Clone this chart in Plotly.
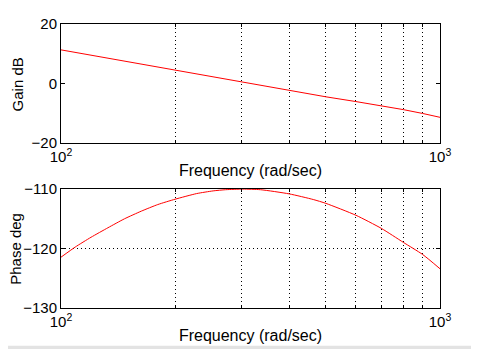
import plotly.graph_objects as go
from plotly.subplots import make_subplots

freq_gain = [100, 200, 300, 400, 500, 600, 700, 800, 900, 1000]
gain_db = [11.3, 4.4, 0.5, -2.3, -4.5, -6.1, -7.5, -8.8, -10.1, -11.4]

freq_phase = [100, 109, 120, 133, 147, 163, 180, 200, 228, 252, 272, 302, 336, 400, 463,
              500, 600, 700, 800, 900, 1000]
phase_deg = [-121.45, -119.75, -118.1, -116.5, -115.0, -113.7, -112.6, -111.7, -110.75, -110.3,
             -110.1, -110.0, -110.1, -110.8, -111.75, -112.4, -114.4, -116.6, -118.95,
             -121.0, -123.4]

x_major = [100, 1000]
x_major_text = ["10<sup>2</sup>", "10<sup>3</sup>"]
x_minor = [200, 300, 400, 500, 600, 700, 800, 900]

fig = make_subplots(rows=2, cols=1, vertical_spacing=0.0)
fig.add_trace(go.Scatter(x=freq_gain, y=gain_db, mode="lines",
                         line=dict(color="red", width=1)), row=1, col=1)
fig.add_trace(go.Scatter(x=freq_phase, y=phase_deg, mode="lines",
                         line=dict(color="red", width=1, shape="spline", smoothing=0.6)),
              row=2, col=1)

tfont = dict(family="Liberation Sans, Arial, sans-serif", size=15, color="black")
xtfont = dict(family="Liberation Sans, Arial, sans-serif", size=16, color="black")
dots = "1px,3px"
xcommon = dict(type="log", range=[2, 3], tickmode="array", tickvals=x_major, ticktext=x_major_text,
               ticks="inside", ticklen=4, tickcolor="black", showline=True, linecolor="black",
               linewidth=1, mirror="ticks", showgrid=False, zeroline=False, tickfont=tfont,
               automargin=False,
               minor=dict(tickmode="array", tickvals=x_minor, ticks="inside", ticklen=3,
                          tickcolor="black", showgrid=True, gridcolor="black", griddash=dots,
                          gridwidth=1),
               title=dict(text="Frequency (rad/sec)", font=xtfont, standoff=0))
fig.update_xaxes(**xcommon, row=1, col=1)
fig.update_xaxes(**xcommon, row=2, col=1)
ycommon = dict(ticks="inside", ticklen=4, tickcolor="black", showline=True, linecolor="black",
               linewidth=1, mirror="ticks", zeroline=False, tickfont=tfont, automargin=False)
fig.update_yaxes(**ycommon, range=[-20, 20], tickvals=[-20, 0, 20], showgrid=False, row=1, col=1)
fig.update_yaxes(**ycommon, range=[-130, -110], tickvals=[-130, -120, -110], showgrid=True,
                 gridcolor="black", griddash=dots, gridwidth=1, row=2, col=1)

fig.update_layout(
    width=471, height=341, showlegend=False,
    margin=dict(l=53, r=39, t=16, b=41),
    paper_bgcolor="white", plot_bgcolor="white", font=tfont,
    xaxis=dict(domain=[0, 1]), yaxis=dict(domain=[0.5814, 1]),
    xaxis2=dict(domain=[0, 1]), yaxis2=dict(domain=[0, 0.4186]),
    shapes=[dict(type="rect", xref="paper", yref="paper", x0=-0.3, x1=1.3,
                 y0=-0.1326, y1=-0.2, fillcolor="#e3e3e3", line=dict(width=0), layer="below")],
    annotations=[
        dict(text="Gain dB", xref="paper", yref="paper", x=-0.1148, y=0.789, textangle=-90,
             xanchor="center", yanchor="middle", showarrow=False, font=tfont),
        dict(text="Phase deg", xref="paper", yref="paper", x=-0.1187, y=0.2086, textangle=-90,
             xanchor="center", yanchor="middle", showarrow=False, font=tfont),
    ],
)
fig.write_html("out.html")
